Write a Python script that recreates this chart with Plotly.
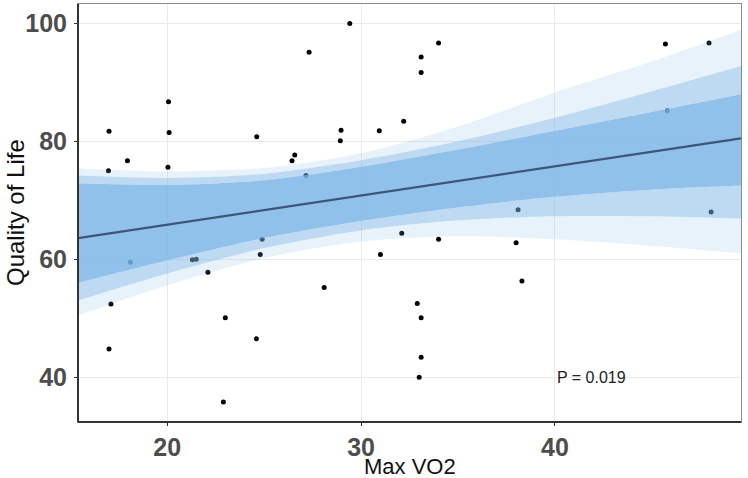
import plotly.graph_objects as go

# observed points (Max VO2, Quality of Life)
vo2 = [17.0, 16.97, 17.95, 20.07, 20.1, 20.04, 24.62, 26.44, 26.58, 27.32,
       29.42, 28.97, 28.93, 30.94, 32.2, 33.1, 33.1, 34.0, 45.7, 47.95,
       48.06, 38.1, 27.16, 45.8, 17.1, 17.0, 22.1, 23.0, 22.9, 24.6,
       24.8, 28.1, 31.0, 21.3, 21.5, 18.1, 24.9, 32.1, 34.0, 38.0,
       38.3, 32.9, 33.1, 33.1, 33.0]
qol = [81.7, 75.0, 76.7, 86.7, 81.5, 75.6, 80.8, 76.7, 77.7, 95.1,
       100.0, 81.9, 80.1, 81.8, 83.4, 94.3, 91.7, 96.7, 96.5, 96.7,
       68.0, 68.4, 74.2, 85.2, 52.4, 44.8, 57.8, 50.1, 35.8, 46.5,
       60.8, 55.2, 60.8, 59.9, 60.0, 59.5, 63.4, 64.4, 63.4, 62.8,
       56.3, 52.5, 50.1, 43.4, 40.0]

# envelope of the bootstrap regression lines, read at these x positions
band_x = [15.4, 20, 25, 30, 35, 40, 45, 49.6]
outer_hi = [75.4, 74.9, 75.5, 78.0, 82.5, 88.3, 93.6, 98.9]
mid_hi = [74.2, 73.8, 74.5, 76.8, 80.0, 84.0, 88.5, 92.8]
core_hi = [72.9, 72.6, 73.4, 75.7, 78.6, 81.8, 85.0, 88.0]
core_lo = [56.0, 59.8, 63.6, 66.5, 68.8, 70.6, 71.8, 72.5]
mid_lo = [53.0, 57.6, 61.9, 64.9, 66.6, 67.3, 67.3, 66.9]
outer_lo = [50.5, 55.6, 60.2, 63.0, 63.9, 63.4, 62.3, 61.0]

# fitted line end points
fit_x = [15.4, 49.6]
fit_y = [63.6, 80.5]

blue = "125,182,230"
font = "Liberation Sans, Arial"

fig = go.Figure()

fig.add_trace(go.Scatter(x=vo2, y=qol, mode="markers",
                         marker=dict(color="black", size=5), hoverinfo="skip"))

layers = [
    (outer_lo, None),
    (mid_lo, 0.18),
    (core_lo, 0.5),
    (core_hi, 0.85),
    (mid_hi, 0.5),
    (outer_hi, 0.18),
]
for vals, op in layers:
    fig.add_trace(go.Scatter(
        x=band_x, y=vals, mode="lines",
        line=dict(width=0, shape="spline", smoothing=0.8),
        fill=None if op is None else "tonexty",
        fillcolor=None if op is None else "rgba(%s,%s)" % (blue, op),
        hoverinfo="skip"))

fig.add_trace(go.Scatter(x=fit_x, y=fit_y, mode="lines",
                         line=dict(color="#3d5675", width=2.2), hoverinfo="skip"))

fig.add_annotation(x=40, y=40, text="P = 0.019", showarrow=False,
                   xanchor="left", yanchor="middle",
                   font=dict(family=font, size=16, color="#222"))

# axis titles placed by hand
fig.add_annotation(x=0.5, y=0, xref="paper", yref="paper", yshift=-44,
                   text="Max VO2", showarrow=False, yanchor="middle",
                   font=dict(family=font, size=22, color="#111"))
fig.add_annotation(x=0, y=0.5, xref="paper", yref="paper", xshift=-63,
                   text="Quality of Life", showarrow=False, textangle=-90,
                   xanchor="center", font=dict(family=font, size=24, color="#111"))

fig.add_shape(type="line", xref="paper", yref="paper", x0=0, x1=0, y0=0, y1=1,
              line=dict(color="#333", width=2))
fig.add_shape(type="line", xref="paper", yref="paper", x0=0, x1=1, y0=0, y1=0,
              line=dict(color="#333", width=2))

tickfont = dict(family=font, size=25, color="#4d4d4d", weight="bold")
fig.update_xaxes(range=[15.4, 49.6], tickvals=[20, 30, 40], tickfont=tickfont,
                 showgrid=True, gridcolor="#ebebeb", gridwidth=1, zeroline=False,
                 showline=True, mirror=True, linecolor="#8c8c8c", linewidth=1,
                 ticks="outside", ticklen=3, tickcolor="#333", tickwidth=1,
                 ticklabelstandoff=0, automargin=False)
fig.update_yaxes(range=[32.4, 103.3], tickvals=[40, 60, 80, 100], tickfont=tickfont,
                 showgrid=True, gridcolor="#ebebeb", gridwidth=1, zeroline=False,
                 showline=True, mirror=True, linecolor="#8c8c8c", linewidth=1,
                 ticks="outside", ticklen=3, tickcolor="#333", tickwidth=1,
                 ticklabelstandoff=2, automargin=False)

fig.update_layout(width=748, height=478, showlegend=False,
                  plot_bgcolor="white", paper_bgcolor="white",
                  margin=dict(l=78, r=7, t=4, b=56))

fig.write_html("out.html", config={"displayModeBar": False},
               post_script="document.body.style.margin='0';")
